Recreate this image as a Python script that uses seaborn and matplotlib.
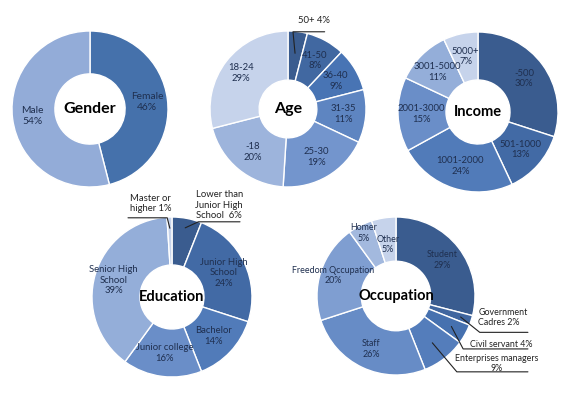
import matplotlib
matplotlib.use("Agg")
import matplotlib.pyplot as plt
import numpy as np
import seaborn as sns

# ----------------------------
# data
# ----------------------------
gender_labels = ["Female", "Male"]
gender_values = [46, 54]

age_labels = ["50+", "41-50", "36-40", "31-35", "25-30", "-18", "18-24"]
age_values = [4, 8, 9, 11, 19, 20, 29]

income_labels = ["-500", "501-1000", "1001-2000", "2001-3000", "3001-5000", "5000+"]
income_values = [30, 13, 24, 15, 11, 7]

edu_labels = ["Lower than\nJunior High\nSchool ", "Junior High\nSchool", "Bachelor",
              "Junior college", "Senior High\nSchool", "Master or\nhigher"]
edu_values = [6, 24, 14, 16, 39, 1]

occ_labels = ["Student", "Government\nCadres", "Civil servant", "Enterprises managers",
              "Staff", "Freedom Qccupation", "Homer", "Other"]
occ_values = [29, 2, 4, 9, 26, 20, 5, 5]

# ----------------------------
# style
# ----------------------------
sns.set_theme(style="white")
plt.rcParams["font.family"] = ["Lato", "DejaVu Sans"]

W, H = 570, 393
fig = plt.figure(figsize=(W / 100, H / 100), dpi=100)
fig.patch.set_facecolor("white")

ramp = ["#3a5c8f", "#4874b4", "#7395cd", "#c6d3eb"]
label_color = "#1f2f4f"


def donut(cx, cy, R, hole, title, labels, values, colors, title_size=10.5,
          label_r=None, font=6.8, callouts=None, r_over=None):
    # axes box placed in pixel units so that the donut has outer radius R
    ax = fig.add_axes([(cx - R) / W, (H - cy - R) / H, 2 * R / W, 2 * R / H])
    wedges, _ = ax.pie(values, colors=colors, startangle=90, counterclock=False,
                       radius=1, wedgeprops=dict(width=1 - hole, edgecolor="white", linewidth=1.0))
    ax.set_xlim(-1, 1)
    ax.set_ylim(-1, 1)
    ax.set_aspect("equal")
    ax.axis("off")
    ax.text(0, 0, title, ha="center", va="center", fontsize=title_size,
            fontweight="bold", color="black")
    if label_r is None:
        label_r = (1 + hole) / 2
    callouts = callouts or {}
    r_over = r_over or {}
    for w, lab, v in zip(wedges, labels, values):
        ang = np.deg2rad((w.theta1 + w.theta2) / 2)
        if lab in callouts:
            c = callouts[lab]
            sx, sy = c["r"] * np.cos(ang), c["r"] * np.sin(ang)
            xs = [sx] + [p[0] for p in c["path"]]
            ys = [sy] + [p[1] for p in c["path"]]
            ax.plot(xs, ys, color="#222222", lw=0.8, clip_on=False)
            ax.text(c["pos"][0], c["pos"][1], lab + c.get("sep", " ") + f"{v}%",
                    ha=c.get("ha", "center"), va="center", fontsize=font,
                    color="#222222", clip_on=False, linespacing=1.15)
        else:
            r = r_over.get(lab, label_r)
            x, y = r * np.cos(ang), r * np.sin(ang)
            ax.text(x, y, f"{lab}\n{v}%", ha="center", va="center", fontsize=font,
                    color=label_color, linespacing=1.25)
    return ax


# Gender
donut(90, 109, 78, 0.45, "Gender", gender_labels, gender_values,
      ["#4571ab", "#93acd8"], title_size=11.5, label_r=0.74, font=7.4)

# Age
donut(288, 109, 78, 0.37, "Age", age_labels, age_values,
      sns.blend_palette(ramp, len(age_values)), title_size=11.5, label_r=0.71,
      r_over={"18-24": 0.76},
      callouts={"50+": dict(r=0.72, path=[(0.064, 0.99), (0.47, 0.99)], pos=(0.33, 1.13))})

# Income
donut(478, 112, 80, 0.40, "Income", income_labels, income_values,
      sns.blend_palette(ramp, len(income_values)), title_size=10.5, label_r=0.71)

# Education
donut(172, 297, 80, 0.40, "Education", edu_labels, edu_values,
      sns.blend_palette(ramp, len(edu_values)), title_size=10.5, label_r=0.71,
      r_over={"Senior High\nSchool": 0.76},
      callouts={
          "Lower than\nJunior High\nSchool ": dict(r=0.88, path=[(0.33, 0.94), (0.85, 0.94)],
                                                 pos=(0.59, 1.15)),
          "Master or\nhigher": dict(r=0.86, path=[(-0.06, 0.99), (-0.55, 0.99)],
                                    pos=(-0.53, 1.17), ha="left"),
      })

# Occupation
donut(396, 296, 79, 0.44, "Occupation", occ_labels, occ_values,
      sns.blend_palette(ramp, len(occ_values)), title_size=10.5, label_r=0.74,
      font=6.4, r_over={"Freedom Qccupation": 0.84, "Homer": 0.9, "Other": 0.66},
      callouts={
          "Government\nCadres": dict(r=0.86, path=[(1.06, -0.46), (1.67, -0.46)],
                                     pos=(1.04, -0.27), ha="left"),
          "Civil servant": dict(r=0.8, path=[(0.85, -0.67), (1.67, -0.67)],
                                pos=(0.94, -0.61), ha="left"),
          "Enterprises managers": dict(r=0.75, path=[(0.77, -0.96), (1.67, -0.96)],
                                       pos=(1.27, -0.86), sep="\n"),
      })

fig.savefig("out.png", dpi=100, facecolor="white")
